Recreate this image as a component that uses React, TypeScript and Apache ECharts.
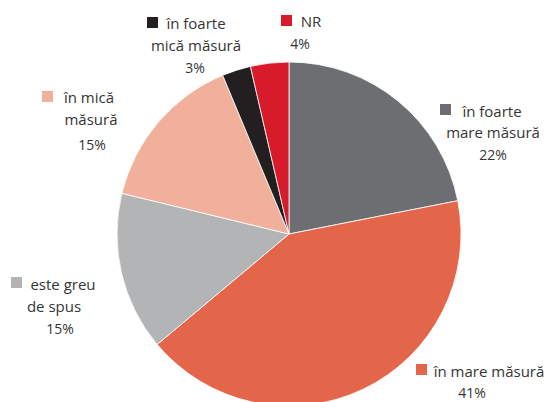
import React, { useEffect, useRef } from "react";
import * as echarts from "echarts";

const categories = [
  "în foarte mare măsură",
  "în mare măsură",
  "este greu de spus",
  "în mică măsură",
  "în foarte mică măsură",
  "NR",
];
const values = [21.9, 42.0, 14.9, 14.9, 2.7, 3.6];
// percentages as printed in the labels
const percentLabels = ["22%", "41%", "15%", "15%", "3%", "4%"];
const colors = ["#6d6e71", "#e3664a", "#b3b4b6", "#f1b09b", "#231f20", "#d81b2a"];

// label lines per category (text split as in the reference)
const labelLines = [
  ["în foarte", "mare măsură"],
  ["în mare măsură"],
  ["este greu", "de spus"],
  ["în mică", "măsură"],
  ["în foarte", "mică măsură"],
  ["NR"],
];

// layout: square position, and center x / middle y of each line
const labelLayout = [
  { sq: [440, 104], lines: [[492, 111], [493, 132]], pct: [493, 154] },
  { sq: [416, 364], lines: [[489, 371]], pct: [472, 392] },
  { sq: [11, 277], lines: [[63, 284], [54, 306]], pct: [60, 328] },
  { sq: [42, 91], lines: [[89, 97], [91, 119]], pct: [92, 144] },
  { sq: [147, 17], lines: [[196, 23], [196, 45]], pct: [195, 67] },
  { sq: [281, 15], lines: [[311, 21]], pct: [300, 43] },
];

const FONT = "'Open Sans', sans-serif";
const TEXT_COLOR = "#353535";

export default function App() {
  const ref = useRef<HTMLDivElement>(null);
  useEffect(() => {
    if (!ref.current) return;
    const chart = echarts.init(ref.current, null, { renderer: "svg" });
    const graphics: any[] = [];
    categories.forEach((_, i) => {
      const lay = labelLayout[i];
      graphics.push({
        type: "rect",
        shape: { x: lay.sq[0], y: lay.sq[1], width: 11, height: 11 },
        style: { fill: colors[i] },
      });
      labelLines[i].forEach((t, j) => {
        graphics.push({
          type: "text",
          x: lay.lines[j][0],
          y: lay.lines[j][1],
          style: {
            text: t,
            fill: TEXT_COLOR,
            font: `15px ${FONT}`,
            textAlign: "center",
            textVerticalAlign: "middle",
          },
        });
      });
      graphics.push({
        type: "text",
        x: lay.pct[0],
        y: lay.pct[1],
        style: {
          text: percentLabels[i],
          fill: TEXT_COLOR,
          font: `14px ${FONT}`,
          textAlign: "center",
          textVerticalAlign: "middle",
        },
      });
    });
    chart.setOption({
      animation: false,
      series: [
        {
          type: "pie",
          center: [289, 234],
          radius: 172,
          startAngle: 90,
          clockwise: true,
          label: { show: false },
          labelLine: { show: false },
          itemStyle: { borderColor: "#ffffff", borderWidth: 0.8 },
          emphasis: { disabled: true },
          data: categories.map((name, i) => ({
            name,
            value: values[i],
            itemStyle: { color: colors[i] },
          })),
        },
      ],
      graphic: graphics,
    });
    return () => chart.dispose();
  }, []);
  return (
    <div
      ref={ref}
      style={{ position: "fixed", left: 0, top: 0, width: 549, height: 402, background: "#fff" }}
    />
  );
}
